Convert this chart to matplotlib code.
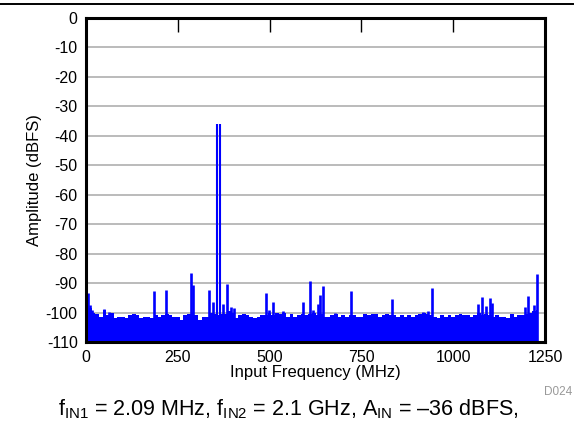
import numpy as np
import matplotlib
matplotlib.use("Agg")
import matplotlib.pyplot as plt
from matplotlib.lines import Line2D

plt.rcParams['font.family'] = ['Liberation Sans', 'DejaVu Sans']
plt.rcParams['mathtext.fontset'] = 'custom'
plt.rcParams['mathtext.rm'] = 'Liberation Sans'
plt.rcParams['mathtext.it'] = 'Liberation Sans:italic'

# Noise floor, one reading every 10 MHz from 0 to 1230 MHz
floor_freq = list(range(0, 1240, 10))
floor_db = [
    -92.5, -98.5, -100.0, -100.5, -101.5, -99.0, -101.0, -100.0, -102.0, -101.5,
    -101.5, -102.0, -101.0, -100.5, -101.0, -102.0, -101.5, -101.5, -102.0, -101.0,
    -101.5, -101.0, -100.5, -101.0, -101.5, -101.5, -102.5, -101.0, -100.5, -100.0,
    -101.0, -102.5, -101.5, -101.5, -100.0, -100.5, -101.0, -100.5, -100.5, -99.5,
    -100.0, -102.0, -101.0, -100.5, -101.0, -101.5, -102.0, -101.5, -101.0, -101.0,
    -100.0, -101.0, -100.0, -100.5, -100.0, -101.5, -100.5, -101.5, -101.0, -100.5,
    -101.0, -100.5, -100.0, -101.0, -100.5, -101.5, -101.5, -101.0, -100.5, -101.5,
    -101.0, -101.5, -101.0, -101.0, -101.5, -101.5, -100.5, -101.0, -100.5, -100.5,
    -101.5, -101.0, -100.5, -101.0, -101.0, -101.5, -101.0, -101.5, -101.0, -101.5,
    -101.0, -100.5, -100.0, -100.5, -101.0, -101.5, -102.0, -101.0, -101.5, -101.0,
    -101.5, -101.0, -100.5, -101.0, -101.0, -101.5, -101.0, -100.0, -101.0, -100.5,
    -101.0, -101.5, -101.0, -101.5, -101.5, -102.0, -100.5, -101.5, -101.0, -101.0,
    -100.5, -100.0, -99.5, -99.0,
]

# Tones and spurs (MHz, dBFS)
spur_freq = [1, 5, 10, 15, 49, 63, 186, 218, 286, 292, 335, 345, 374, 385, 394, 403,
             490, 499, 510, 537, 590, 610, 618, 631, 637, 646, 678, 722, 832, 919,
             931, 943, 1068, 1079, 1089, 1100, 1106, 1195, 1205, 1221, 1227]
spur_db = [-92.7, -93.5, -97.5, -99.0, -98.8, -99.8, -92.7, -92.4, -86.7, -90.7,
           -92.4, -96.5, -97.0, -90.4, -98.0, -98.6, -93.5, -99.0, -96.5, -99.5,
           -96.5, -89.2, -99.0, -97.0, -94.0, -90.9, -100.2, -92.7, -95.4, -99.9,
           -99.5, -91.8, -97.2, -94.7, -97.7, -95.2, -96.9, -98.2, -94.5, -97.3, -87.0]
tone_freq = [356, 365]
tone_db = [-36, -36]

x_ticks = [0, 250, 500, 750, 1000, 1250]
y_ticks = list(range(0, -120, -10))

blue = '#0000ff'
fig = plt.figure(figsize=(5.74, 4.24), dpi=100)
ax = fig.add_axes([86 / 574, 1 - 342 / 424, (545 - 86) / 574, (342 - 18) / 424])

ax.fill_between(floor_freq, -110, floor_db, step='mid', color=blue, lw=0, zorder=3)
ax.vlines(spur_freq, -110, spur_db, color=blue, lw=1.9, zorder=3)
ax.vlines(tone_freq, -110, tone_db, color=blue, lw=1.5, zorder=3)

ax.set_xlim(0, 1250)
ax.set_ylim(-110, 0)
ax.set_xticks(x_ticks)
ax.set_yticks(y_ticks)
ax.set_yticklabels([str(v) for v in y_ticks])
ax.yaxis.grid(True, color='#a8a8a8', lw=1.1, zorder=0)
ax.set_axisbelow(True)
ax.tick_params(axis='x', direction='in', top=True, bottom=True, length=10,
               width=1.0, labelsize=11.5, pad=6)
ax.tick_params(axis='y', length=0, labelsize=11.5, pad=6)
for side in ['left', 'right', 'top', 'bottom']:
    ax.spines[side].set_linewidth(2.2)
    ax.spines[side].set_zorder(5)

ax.set_xlabel('Input Frequency (MHz)', fontsize=12, labelpad=0)
ax.set_ylabel('Amplitude (dBFS)', fontsize=12, labelpad=3)

fig.text(572 / 574, 1 - 392 / 424, 'D024', fontsize=8.5, color='#999999',
         ha='right', va='center')
fig.text(288 / 574, 1 - 409 / 424,
         r'f$_{\mathrm{IN1}}$ = 2.09 MHz, f$_{\mathrm{IN2}}$ = 2.1 GHz, '
         r'A$_{\mathrm{IN}}$ = –36 dBFS,',
         fontsize=15.5, ha='center', va='center')

fig.add_artist(Line2D([0, 573 / 574], [1 - 4 / 424, 1 - 4 / 424],
                      transform=fig.transFigure, color='black', lw=1.4))

fig.savefig('out.png', dpi=100)
